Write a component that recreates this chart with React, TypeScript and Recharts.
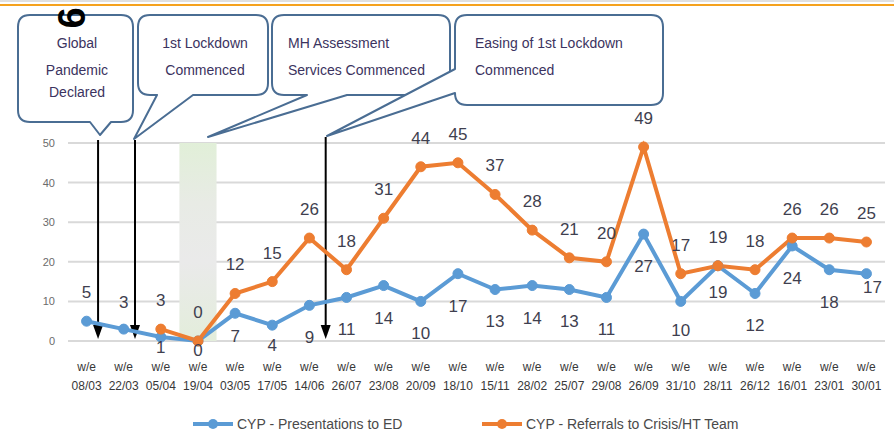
import React from 'react';
import {
  LineChart,
  Line,
  XAxis,
  YAxis,
  CartesianGrid,
  ReferenceArea,
  ReferenceLine,
  Legend,
} from 'recharts';

// ---------- data ----------
const weekEnding = [
  '08/03', '22/03', '05/04', '19/04', '03/05', '17/05', '14/06', '26/07',
  '23/08', '20/09', '18/10', '15/11', '28/02', '25/07', '29/08', '26/09',
  '31/10', '28/11', '26/12', '16/01', '23/01', '30/01',
];
const presentationsToED = [
  5, 3, 1, 0, 7, 4, 9, 11, 14, 10, 17, 13, 14, 13, 11, 27, 10, 19, 12, 24, 18, 17,
];
const referralsToCrisis: (number | null)[] = [
  null, null, 3, 0, 12, 15, 26, 18, 31, 44, 45, 37, 28, 21, 20, 49, 17, 19, 18, 26, 26, 25,
];
const yTicks = [0, 10, 20, 30, 40, 50];
const seriesNames = ['CYP - Presentations to ED', 'CYP - Referrals to Crisis/HT Team'];
const shadedWeek = '19/04';
const arrowWeeks = ['08/03', '22/03', '14/06'];

const data = weekEnding.map((w, i) => ({
  week: w,
  ed: presentationsToED[i],
  crisis: referralsToCrisis[i],
}));

// ---------- styles ----------
const FONT = '"Liberation Sans", Arial, sans-serif';
const BLUE = '#5b9bd5';
const ORANGE = '#ed7d31';
const LABEL_COLOR = '#3f3f4f';
const CALLOUT_STROKE = '#4a6d93';
const CALLOUT_TEXT = '#3b3360';
const arrowStyle = [
  { dx: 11.5, topExtra: 3 },
  { dx: 11.3, topExtra: 3 },
  { dx: 16.3, topExtra: 6 },
];
// label offset tweaks (pixels) for the ED series, keyed by point index
const edLabelOffsets: Record<number, { dx: number; dy: number }> = {
  0: { dx: 0, dy: -29 },
  1: { dx: 0, dy: -27 },
  2: { dx: 0, dy: 10 },
  3: { dx: 0, dy: 9 },
  4: { dx: 0, dy: 23 },
  5: { dx: 0, dy: 20 },
  16: { dx: 0, dy: 29 },
  17: { dx: 0, dy: 26 },
  21: { dx: 6, dy: 13 },
};

const WeekTick = (props: any) => {
  const { x, y, payload } = props;
  return (
    <text x={x} y={y} textAnchor="middle" fill="#383838" fontSize={12} fontFamily={FONT}>
      <tspan x={x} dy={30}>w/e</tspan>
      <tspan x={x} dy={19}>{payload.value}</tspan>
    </text>
  );
};

const edLabel = (p: any) => {
  const { x, y, value, index } = p;
  if (value == null) return null;
  const off = edLabelOffsets[index] || { dx: 0, dy: 32 };
  return (
    <text
      key={`ed-${index}`}
      x={x + off.dx}
      y={y + off.dy}
      dy="0.35em"
      textAnchor="middle"
      fill={LABEL_COLOR}
      fontSize={17}
      fontFamily={FONT}
    >
      {value}
    </text>
  );
};

const crisisLabel = (p: any) => {
  const { x, y, value, index } = p;
  if (value == null) return null;
  return (
    <text
      key={`cr-${index}`}
      x={x}
      y={y - 29}
      dy="0.35em"
      textAnchor="middle"
      fill={LABEL_COLOR}
      fontSize={17}
      fontFamily={FONT}
    >
      {value}
    </text>
  );
};

const makeArrow = (i: number) => (p: any) => {
  const { x1, y1, y2 } = p;
  const { dx, topExtra } = arrowStyle[i];
  const x = x1 + dx;
  const top = Math.min(y1, y2) - topExtra;
  const tip = Math.max(y1, y2) - 2;
  return (
    <g>
      <line x1={x} y1={top} x2={x} y2={tip - 10} stroke="#000" strokeWidth={2} />
      <polygon points={`${x - 5},${tip - 14} ${x + 5},${tip - 14} ${x},${tip}`} fill="#000" />
    </g>
  );
};

const LegendContent = () => (
  <div style={{ position: 'relative', width: 894, height: 20, fontFamily: FONT }}>
    {[BLUE, ORANGE].map((c, i) => (
      <div
        key={i}
        style={{
          position: 'absolute',
          left: i === 0 ? 193 : 482,
          top: 0,
          display: 'flex',
          alignItems: 'center',
          whiteSpace: 'nowrap',
        }}
      >
        <svg width={40} height={14} style={{ marginRight: 4 }}>
          <line x1={0} y1={7} x2={40} y2={7} stroke={c} strokeWidth={4} />
          <circle cx={20} cy={7} r={5} fill={c} />
        </svg>
        <span style={{ fontSize: 14, color: '#4a4a4a' }}>{seriesNames[i]}</span>
      </div>
    ))}
  </div>
);

const Callouts = () => (
  <svg
    width={894}
    height={438}
    style={{ position: 'absolute', left: 0, top: 0, pointerEvents: 'none' }}
  >
    <line x1={0} y1={1} x2={894} y2={1} stroke="#d6d6d6" strokeWidth={1.5} />
    <line x1={0} y1={5} x2={894} y2={5} stroke="#f5a21e" strokeWidth={2} />
    <g fill="#fff" stroke={CALLOUT_STROKE} strokeWidth={2} strokeLinejoin="round">
      <path d="M30 15 H121 Q133 15 133 27 V110 Q133 122 121 122 H111 L100 135 L90 122 H30 Q18 122 18 110 V27 Q18 15 30 15 Z" />
      <path d="M150 15 H256 Q268 15 268 27 V83 Q268 95 256 95 H193 L134 139 L157 95 H150 Q138 95 138 83 V27 Q138 15 150 15 Z" />
      <path d="M284 15 H438 Q450 15 450 27 V83 Q450 95 438 95 H347 L208 137 L307 95 H284 Q272 95 272 83 V27 Q272 15 284 15 Z" />
      <path d="M467 15 H651 Q663 15 663 27 V93 Q663 105 651 105 H467 Q455 105 455 93 V93 L327 136 L455 69 V27 Q455 15 467 15 Z" />
    </g>
    <g fill={CALLOUT_TEXT} fontFamily={FONT} fontSize={14}>
      <text x={77} y={48} textAnchor="middle">Global</text>
      <text x={77} y={75} textAnchor="middle">Pandemic</text>
      <text x={77} y={97} textAnchor="middle">Declared</text>
      <text x={205} y={48} textAnchor="middle">1st Lockdown</text>
      <text x={205} y={75} textAnchor="middle">Commenced</text>
      <text x={288} y={48}>MH Assessment</text>
      <text x={288} y={75}>Services Commenced</text>
      <text x={475} y={48}>Easing of 1st Lockdown</text>
      <text x={475} y={75}>Commenced</text>
    </g>
    <text
      x={72}
      y={18}
      fontSize={38}
      fontWeight="bold"
      fontFamily={FONT}
      textAnchor="middle"
      dominantBaseline="central"
      transform="rotate(-90 72 18)"
    >
      6
    </text>
  </svg>
);

export default function App() {
  return (
    <div style={{ position: 'absolute', left: 0, top: 0, width: 894, height: 438, background: '#fff' }}>
      <LineChart
        width={894}
        height={438}
        data={data}
        margin={{ top: 143, right: 9, bottom: 37, left: 0 }}
      >
        <defs>
          <linearGradient id="shade" x1="0" y1="0" x2="0" y2="1">
            <stop offset="0" stopColor="#e1efd8" />
            <stop offset="0.3" stopColor="#e8ebe5" />
            <stop offset="0.6" stopColor="#eaeaea" />
            <stop offset="1" stopColor="#e3eddb" />
          </linearGradient>
        </defs>
        <CartesianGrid vertical={false} stroke="#d9d9d9" strokeWidth={2} />
        <ReferenceArea x1={shadedWeek} x2={shadedWeek} fill="url(#shade)" fillOpacity={1} stroke="none" />
        <XAxis
          dataKey="week"
          scale="band"
          interval={0}
          height={60}
          tickLine={false}
          axisLine={false}
          tickSize={0}
          tickMargin={0}
          tick={<WeekTick />}
        />
        <YAxis
          width={68}
          domain={[0, 50]}
          ticks={yTicks}
          tickLine={false}
          axisLine={false}
          tickSize={0}
          tickMargin={13}
          tick={{ fontSize: 11, fill: '#6b6b6b', fontFamily: FONT }}
        />
        {arrowWeeks.map((w, i) => (
          <ReferenceLine key={w} x={w} shape={makeArrow(i)} ifOverflow="visible" />
        ))}
        <Line
          dataKey="ed"
          name={seriesNames[0]}
          stroke={BLUE}
          strokeWidth={4}
          dot={{ r: 5, fill: BLUE, stroke: BLUE, strokeWidth: 1 }}
          isAnimationActive={false}
          label={edLabel}
        />
        <Line
          dataKey="crisis"
          name={seriesNames[1]}
          stroke={ORANGE}
          strokeWidth={4}
          dot={{ r: 5, fill: ORANGE, stroke: ORANGE, strokeWidth: 1 }}
          isAnimationActive={false}
          label={crisisLabel}
        />
        <Legend
          verticalAlign="middle"
          align="center"
          layout="horizontal"
          content={<LegendContent />}
          wrapperStyle={{ top: 416, left: 0, width: 894 }}
        />
      </LineChart>
      <Callouts />
    </div>
  );
}
